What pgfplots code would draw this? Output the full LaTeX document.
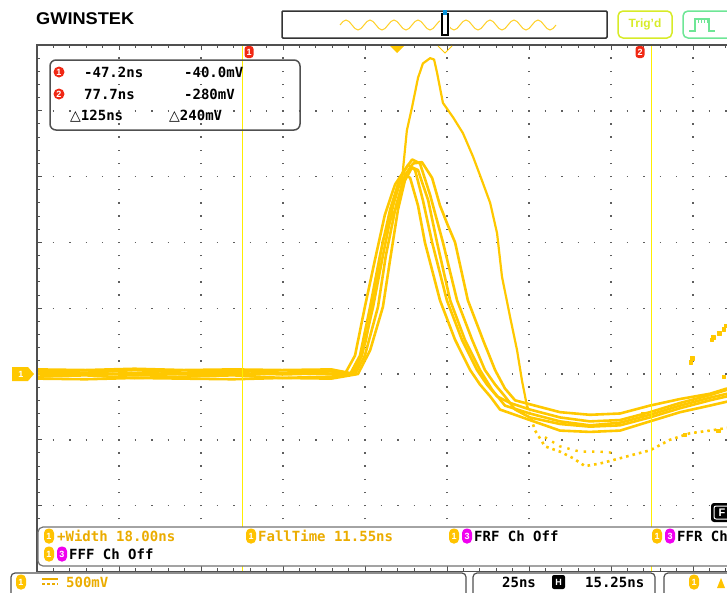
\documentclass[border=0pt]{standalone}
\usepackage{pgfplots}
\pgfplotsset{compat=1.18}
\usepackage{fontspec}
\setmainfont{Liberation Sans}
\newfontfamily\monofont{DejaVu Sans Mono}
\newfontfamily\symfont{DejaVu Sans}
\definecolor{trace}{RGB}{255,200,0}
\definecolor{cursorc}{RGB}{255,238,0}
\definecolor{gridc}{RGB}{95,95,95}
\definecolor{bordc}{RGB}{80,80,80}
\definecolor{measc}{RGB}{235,172,0}
\definecolor{oval}{RGB}{255,195,0}
\definecolor{magc}{RGB}{240,0,240}
\definecolor{redm}{RGB}{240,40,20}
\definecolor{trigc}{RGB}{215,235,40}
\definecolor{greenc}{RGB}{110,230,150}
\newcommand{\mf}{\monofont\bfseries\fontsize{14}{14}\selectfont}
\begin{document}
\begin{tikzpicture}
\useasboundingbox (0pt,0pt) rectangle (727pt,-592pt);
\begin{axis}[at={(37pt,-45pt)}, anchor=north west, scale only axis,
  width=690pt, height=526.4pt,
  xmin=-109.75, xmax=100.6, ymin=-1.5, ymax=2.5,
  axis line style={draw=none},
  xtick={-84.75,-59.75,-34.75,-9.75,15.25,40.25,65.25,90.25},
  ytick={-1,-0.5,0,0.5,1,1.5,2},
  minor xtick={-104.75,-99.75,...,100.25},
  minor ytick={-1.4,-1.3,...,2.45},
  xticklabels={}, yticklabels={},
  xtick pos=both, ytick pos=left,
  tick align=inside, major tick length=5pt, minor tick length=3pt,
  tick style={draw=bordc, line width=1pt},
  grid=major,
  x grid style={gridc, line width=1.4pt, dash pattern=on 1.4pt off 11.76pt, dash phase=0.7pt},
  y grid style={gridc, line width=1.4pt, dash pattern=on 1.4pt off 15pt, dash phase=0.7pt},
  every axis plot/.append style={line join=round},
]
% cluster traces
\addplot[trace, line width=2.6pt] coordinates {(-109.8,0.02) (-95,0.01) (-80,0.03) (-65,0.01) (-50,0.025) (-35,0.01) (-20,0.02) (-15.9,0) (-12.8,0.14) (-9.8,0.51) (-6.7,0.87) (-3.7,1.21) (-0.6,1.44) (1.8,1.53) (4.0,1.49) (6.4,1.28) (8.5,1.00) (13.1,0.56) (17.7,0.26) (22.3,0.03) (25.3,-0.08) (28.4,-0.17) (31.4,-0.27) (40.5,-0.35) (49.7,-0.43) (58.8,-0.44) (68.0,-0.43) (77.1,-0.36) (86.3,-0.29) (95.4,-0.24) (100.6,-0.21)};
\addplot[trace, line width=2.6pt] coordinates {(-109.8,-0.02) (-95,-0.01) (-80,-0.03) (-65,-0.02) (-50,-0.01) (-35,-0.03) (-20,-0.02) (-14.3,0) (-11.3,0.14) (-8.2,0.51) (-5.2,0.90) (-2.1,1.25) (0.9,1.49) (3.4,1.59) (5.5,1.55) (7.9,1.32) (10.7,1.00) (15.2,0.56) (19.8,0.26) (24.4,0.03) (27.4,-0.08) (30.5,-0.17) (34.5,-0.22) (40.5,-0.27) (49.7,-0.33) (58.8,-0.36) (68.0,-0.35) (77.1,-0.29) (86.3,-0.22) (95.4,-0.16) (100.6,-0.12)};
\addplot[trace, line width=2.6pt] coordinates {(-109.8,0.0) (-95,0.01) (-80,-0.01) (-65,0.0) (-50,-0.005) (-35,0.005) (-20,0.0) (-13.7,0) (-10.7,0.14) (-7.3,0.51) (-4.3,0.90) (-1.2,1.28) (1.8,1.53) (4.6,1.63) (7.0,1.60) (10.1,1.36) (14.0,1.00) (18.3,0.56) (22.9,0.26) (26.8,0.03) (29.9,-0.08) (32.9,-0.17) (36.0,-0.27) (40.5,-0.33) (49.7,-0.38) (58.8,-0.40) (68.0,-0.39) (77.1,-0.33) (86.3,-0.26) (95.4,-0.20) (100.6,-0.17)};
\addplot[trace, line width=2.6pt] coordinates {(-109.8,0.035) (-95,0.03) (-80,0.04) (-65,0.03) (-50,0.035) (-35,0.03) (-20,0.035) (-12.8,0) (-9.8,0.14) (-5.8,0.51) (-3.4,0.90) (-0.3,1.28) (2.4,1.51) (4.9,1.60) (7.6,1.61) (10.7,1.49) (13.1,1.28) (15.5,1.13) (17.7,1.00) (21.6,0.56) (26.2,0.26) (29.9,0.03) (32.9,-0.11) (36.0,-0.20) (40.5,-0.23) (49.7,-0.29) (58.8,-0.31) (68.0,-0.30) (77.1,-0.24) (86.3,-0.19) (95.4,-0.15) (100.6,-0.11)};
\addplot[trace, line width=2.6pt] coordinates {(-109.8,-0.035) (-95,-0.04) (-80,-0.03) (-65,-0.035) (-50,-0.04) (-35,-0.03) (-20,-0.035) (-11.9,0) (-8.2,0.18) (-4.3,0.51) (-2.1,0.87) (0.3,1.25) (2.4,1.47) (4.6,1.57) (6.4,1.55) (9.5,1.32) (12.2,1.00) (16.2,0.56) (20.7,0.26) (25.3,0.03) (29.0,-0.12) (32.9,-0.24) (40.5,-0.30) (49.7,-0.36) (58.8,-0.39) (68.0,-0.37) (77.1,-0.31) (86.3,-0.24) (95.4,-0.18) (100.6,-0.15)};
% tall trace
\addplot[trace, line width=2.2pt] coordinates {(-109.8,0.005) (-95,-0.005) (-80,0.01) (-65,0.0) (-50,0.01) (-35,-0.005) (-20,0.005) (-12.8,0) (-9.5,0.25) (-7.0,0.6) (-4.3,1.02) (-1.5,1.2) (0.9,1.32) (3.0,1.85) (4.6,2.03) (6.4,2.25) (7.9,2.36) (10.1,2.40) (11.3,2.39) (12.2,2.29) (14.0,2.06) (17.1,1.95) (20.1,1.83) (23.2,1.65) (26.2,1.45) (28.4,1.30) (30.5,1.07) (32.0,0.74) (34.5,0.43) (36.6,0.18) (38.1,-0.05) (39.6,-0.24)};
\addplot[trace, line width=2.6pt, dash pattern=on 2.6pt off 4pt] coordinates {(39.6,-0.24) (42.1,-0.43) (45.1,-0.55) (49.7,-0.59) (53.7,-0.64) (57.3,-0.70) (61.9,-0.68) (66.5,-0.65) (71.0,-0.62) (77.1,-0.58) (83.2,-0.50) (89.3,-0.45) (95.4,-0.43) (100.6,-0.41)};
% sparse lower trace
\addplot[trace, line width=2.4pt, dash pattern=on 2.4pt off 6pt] coordinates {(45.1,-0.48) (49.7,-0.55) (55.8,-0.59) (61.9,-0.59) (66.5,-0.60)};
% next pulse at right edge (sparse points)
\addplot[trace, only marks, mark=square*, mark size=1.6pt] coordinates {(89.6,0.09) (90.0,0.12) (96.0,0.26) (96.4,0.28) (98.2,0.31) (99.6,0.34) (100.3,0.37)};
\addplot[trace, only marks, mark=square*, mark size=1.6pt] coordinates {(87.8,-0.46) (97.9,-0.43) (75.0,-0.30) (99.5,-0.02)};
% cursors
\addplot[cursorc, line width=1.2pt] coordinates {(-47.2,-1.5) (-47.2,2.5)};
\addplot[cursorc, line width=1.2pt] coordinates {(77.7,-1.5) (77.7,2.5)};
\end{axis}
\begin{scope}[x=1pt,y=-1pt]
\clip (0,0) rectangle (727,592);
% borders
\draw[bordc, line width=1.6pt] (728,45) -- (37,45) -- (37,571.4) -- (728,571.4);
% header
\node[anchor=west, inner sep=0, font=\bfseries\fontsize{17}{17}\selectfont, xscale=1.07] at (36,19) {GWINSTEK};
\draw[black!80, line width=1.5pt, rounded corners=1pt] (282,11) rectangle (607,38);
\foreach \i in {0,...,8} {
  \draw[trace!85, line width=1pt] ({340+24*\i},25) sin ({346+24*\i},20) cos ({352+24*\i},25) sin ({358+24*\i},30) cos ({364+24*\i},25);
}
\fill[white] (440,13) rectangle (450,37);
\draw[black, line width=1.3pt] (442,14) rectangle (448,35);
\fill[cyan!80!blue] (443,10) rectangle (447,15);
\draw[trigc, line width=1.5pt, rounded corners=5pt] (618,11) rectangle (672,38);
\node[text=trigc, font=\bfseries\fontsize{12}{12}\selectfont] at (645,24.5) {Trig'd};
\draw[greenc, line width=1.5pt, rounded corners=5pt] (683,11) rectangle (740,38);
\draw[greenc, line width=1.5pt] (689,31) -- (695,31) -- (695,19) -- (709,19) -- (709,31) -- (715,31);
\foreach \k in {698,701,704,707} {\draw[greenc, line width=1pt] (\k,19) -- (\k,23);}
% cursor markers
\node[fill=redm, text=white, rounded corners=3pt, inner sep=0.5pt, minimum width=9pt, minimum height=12pt, font=\bfseries\fontsize{9}{9}\selectfont] at (249,52) {1};
\node[fill=redm, text=white, rounded corners=3pt, inner sep=0.5pt, minimum width=9pt, minimum height=12pt, font=\bfseries\fontsize{9}{9}\selectfont] at (640,52) {2};
% trigger markers
\fill[trace] (390,46) -- (404,46) -- (397,53) -- cycle;
\draw[trace, line width=1pt] (438,46) -- (445,53) -- (452,46);
% cursor readout box
\draw[bordc, line width=1.5pt, rounded corners=6pt] (50,60) rectangle (300,130);
\node[circle, fill=redm, text=white, inner sep=0pt, minimum size=11pt, font=\bfseries\fontsize{9}{9}\selectfont] at (59,72) {1};
\node[circle, fill=redm, text=white, inner sep=0pt, minimum size=11pt, font=\bfseries\fontsize{9}{9}\selectfont] at (59,94) {2};
\node[anchor=west, inner sep=0, font=\mf] at (84,72) {-47.2ns};
\node[anchor=west, inner sep=0, font=\mf] at (184,72) {-40.0mV};
\node[anchor=west, inner sep=0, font=\mf] at (84,94) {77.7ns};
\node[anchor=west, inner sep=0, font=\mf] at (184,94) {-280mV};
\node[anchor=west, inner sep=0, font=\mf] at (70,116) {{\symfont △}125ns};
\node[anchor=west, inner sep=0, font=\mf] at (169,116) {{\symfont △}240mV};
% channel marker
\fill[trace] (12,367) -- (28,367) -- (34,374) -- (28,381) -- (12,381) -- cycle;
\node[text=white, font=\bfseries\fontsize{9}{9}\selectfont] at (21,374) {1};
% F icon
\fill[black, rounded corners=3pt] (711,503) rectangle (745,522);
\draw[white, line width=1pt, rounded corners=2pt] (714,506) rectangle (745,519);
\node[text=white, font=\bfseries\fontsize{11}{11}\selectfont] at (722,512.5) {F};
% measurement overlay
\draw[bordc!80, fill=white, rounded corners=5pt, line width=1.2pt] (38,527) rectangle (760,566);
\newcommand{\yone}[2]{\fill[oval, rounded corners=4.5pt] (#1-5,#2-7.5) rectangle (#1+5,#2+7.5); \node[text=white, font=\bfseries\fontsize{9}{9}\selectfont] at (#1,#2) {1};}
\newcommand{\mthree}[2]{\fill[magc, rounded corners=4.5pt] (#1-5,#2-7.5) rectangle (#1+5,#2+7.5); \node[text=white, font=\bfseries\fontsize{9}{9}\selectfont] at (#1,#2) {3};}
\yone{49}{536}
\node[anchor=west, inner sep=0, text=measc, font=\mf] at (57,536) {+Width 18.00ns};
\yone{251}{536}
\node[anchor=west, inner sep=0, text=measc, font=\mf] at (258,536) {FallTime 11.55ns};
\yone{454}{536}\mthree{467}{536}
\node[anchor=west, inner sep=0, font=\mf] at (474,536) {FRF Ch Off};
\yone{657}{536}\mthree{670}{536}
\node[anchor=west, inner sep=0, font=\mf] at (677,536) {FFR Ch Off};
\yone{49}{554}\mthree{62}{554}
\node[anchor=west, inner sep=0, font=\mf] at (69,554) {FFF Ch Off};
% status bar
\draw[bordc, line width=1.2pt, rounded corners=4pt] (11,573) rectangle (466,598);
\yone{21}{582}
\draw[measc, line width=1.3pt] (42,579) -- (58,579);
\draw[measc, line width=1.3pt, dash pattern=on 3pt off 2pt] (42,584) -- (58,584);
\node[anchor=west, inner sep=0, text=measc, font=\mf] at (66,582) {500mV};
\draw[bordc, line width=1.2pt, rounded corners=4pt] (473,573) rectangle (655,598);
\node[anchor=west, inner sep=0, font=\mf] at (502,582) {25ns};
\fill[black, rounded corners=2pt] (552,575) rectangle (565,589);
\node[text=white, font=\bfseries\fontsize{9}{9}\selectfont] at (558.5,582) {H};
\node[anchor=west, inner sep=0, font=\mf] at (585,582) {15.25ns};
\draw[bordc, line width=1.2pt, rounded corners=4pt] (664,573) rectangle (760,598);
\yone{694}{582}
\fill[oval] (717,588) -- (721,578) -- (725,588) -- cycle;
\end{scope}
\end{tikzpicture}
\end{document}
